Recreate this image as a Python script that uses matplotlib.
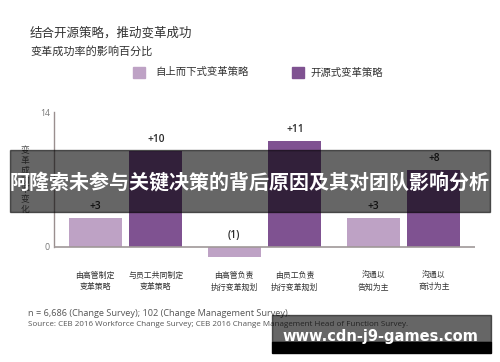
import matplotlib
matplotlib.use("Agg")
import matplotlib.pyplot as plt
from matplotlib.patches import Rectangle
import numpy as np

plt.rcParams['font.family'] = ['Noto Sans CJK SC', 'DejaVu Sans']

groups = ["由高管制定\n变革策略", "与员工共同制定\n变革策略",
          "由高管负责\n执行变革规划", "由员工负责\n执行变革规划",
          "沟通以\n告知为主", "沟通以\n商讨为主"]
series_names = ["自上而下式变革策略", "开源式变革策略"]
top_down = [3, -1, 3]
open_src = [10, 11, 8]
value_labels_td = ["+3", "(1)", "+3"]
value_labels_os = ["+10", "+11", "+8"]
yticks = [0, 14]
ylabel = "变革成功率变化"

title = "结合开源策略，推动变革成功"
subtitle = "变革成功率的影响百分比"
note1 = "n = 6,686 (Change Survey); 102 (Change Management Survey)."
note2 = "Source: CEB 2016 Workforce Change Survey; CEB 2016 Change Management Head of Function Survey."
banner = "阿隆索未参与关键决策的背后原因及其对团队影响分析"
watermark = "www.cdn-j9-games.com"

c_light = "#bea2c5"
c_dark = "#7f5291"

W, H = 500, 362
fig = plt.figure(figsize=(5, 3.62), dpi=100)

def fx(px):
    return px / W

def fy(py):
    return 1 - py / H

ymin, ymax = -1.3, 14
y0_px, y14_px = 247, 112
ppu = (y0_px - y14_px) / 14.0
bottom_px = y0_px - ymin * ppu
ax = fig.add_axes([fx(54), fy(bottom_px), fx(475) - fx(54), fy(y14_px) - fy(bottom_px)])

x = np.arange(len(top_down))
bw = 0.38
off = 0.218
b1 = ax.bar(x - off, top_down, bw, color=c_light, zorder=2)
b2 = ax.bar(x + off, open_src, bw, color=c_dark, zorder=2)

for bars, labs in ((b1, value_labels_td), (b2, value_labels_os)):
    for rect, lab in zip(bars, labs):
        h = rect.get_height()
        ax.annotate(lab, (rect.get_x() + rect.get_width() / 2, max(h, 0)),
                    xytext=(0, 8), textcoords="offset points",
                    ha="center", va="center", fontsize=7.3, color="#2a2a2a",
                    family=["Open Sans", "DejaVu Sans"], fontweight="semibold")

ax.set_xlim(-0.514, 2.514)
ax.set_ylim(ymin, ymax)
ax.axhline(0, color="#a09898", lw=1.2, zorder=3)
for s in ("top", "right", "bottom"):
    ax.spines[s].set_visible(False)
ax.spines["left"].set_bounds(0, 14)
ax.spines["left"].set_color("#9a8f8f")
ax.spines["left"].set_linewidth(1.0)
ax.set_yticks(yticks)
ax.tick_params(axis="y", length=0, pad=3, labelsize=6.3, labelcolor="#777777")
for t in ax.get_yticklabels():
    t.set_family(["Open Sans", "DejaVu Sans"])

centers = np.ravel(np.column_stack([x - off, x + off]))
ax.set_xticks(centers)
ax.set_xticklabels(groups, fontsize=5.7, color="#333333", linespacing=1.3)
ax.tick_params(axis="x", length=0, pad=8.5)

fig.text(fx(25), fy(180), "\n".join(ylabel), ha="center", va="center",
         fontsize=6.3, color="#555555", linespacing=1.12)

fig.text(fx(30), fy(33), title, ha="left", va="center", fontsize=9, color="#333333")
fig.text(fx(30), fy(51), subtitle, ha="left", va="center", fontsize=8,
         color="#333333", style="italic")

# legend
for (lx, tx), name, col in zip(((133, 155), (292, 310)), series_names, (c_light, c_dark)):
    fig.patches.append(Rectangle((fx(lx), fy(78)), fx(12), fy(67) - fy(78),
                                 transform=fig.transFigure, color=col))
    fig.text(fx(tx), fy(72.5), name, ha="left", va="center", fontsize=7.5, color="#333333")

fig.text(fx(28), fy(313), note1, ha="left", va="center", fontsize=6.6, color="#555555",
         family=["Open Sans", "DejaVu Sans"])
fig.text(fx(28), fy(325), note2, ha="left", va="center", fontsize=5.8, color="#555555",
         family=["Open Sans", "DejaVu Sans"])

# overlay banner
fig.patches.append(Rectangle((fx(10), fy(212)), fx(480), fy(150) - fy(212),
                             transform=fig.transFigure, color="black", alpha=0.6, zorder=10))
fig.text(0.5, fy(182), banner, ha="center", va="center", fontsize=14.4,
         color="white", fontweight="bold", zorder=11)

# watermark
fig.patches.append(Rectangle((fx(272), fy(342)), fx(219), fy(315) - fy(342),
                             transform=fig.transFigure, color="black", alpha=0.6, zorder=10))
fig.patches.append(Rectangle((fx(272), fy(353)), fx(219), fy(342) - fy(353),
                             transform=fig.transFigure, color="black", alpha=1.0, zorder=10))
fig.text(fx(380), fy(336), watermark, ha="center", va="center", fontsize=10.5,
         color="white", fontweight="bold", family=["DejaVu Sans"], zorder=11)

fig.savefig("out.png", dpi=100)
